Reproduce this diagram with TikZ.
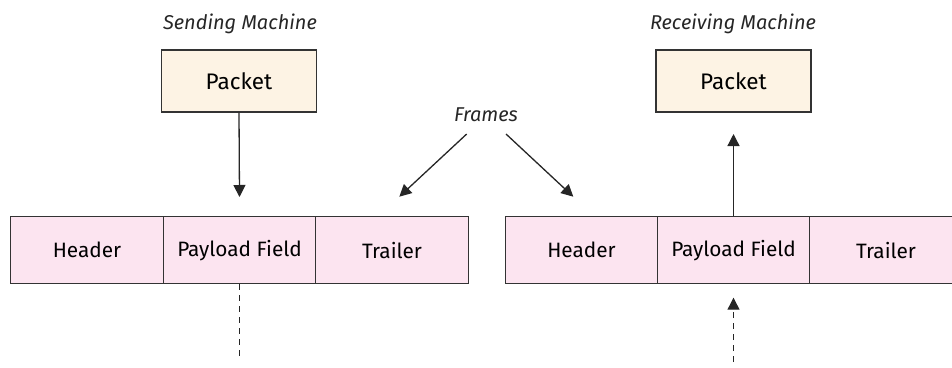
\documentclass[tikz,border=0pt]{standalone}
\usepackage{fontspec}
\setmainfont{Fira Sans}
\usetikzlibrary{arrows.meta}
\definecolor{packetfill}{HTML}{FDF3E4}
\definecolor{framefill}{HTML}{FCE4F0}
\definecolor{edge}{HTML}{333333}
\tikzset{
  packetbox/.style={draw=edge, fill=packetfill, line width=1.3pt, minimum width=155pt, minimum height=62pt, font=\fontsize{22.5}{26}\selectfont, inner sep=0pt},
  cell/.style={draw=edge, fill=framefill, line width=1.3pt, minimum width=152.5pt, minimum height=67pt, font=\fontsize{20.8}{24}\selectfont, inner sep=0pt},
  caption/.style={font=\itshape\fontsize{20}{24}\selectfont, text=black!85},
  link/.style={draw=black!85, line width=1.3pt, -{Triangle[width=12pt,length=12pt]}},
  dashlink/.style={draw=black!85, line width=1.2pt, dash pattern=on 6pt off 5pt}
}
\begin{document}
\begin{tikzpicture}[x=1pt,y=-1pt]
  \useasboundingbox (0,0) rectangle (952,367);
  \begin{scope}
    \clip (0,0) rectangle (952,367);
    % captions
    \node[caption] (sendcap) at (240,24) {Sending Machine};
    \node[caption] (recvcap) at (733,24) {Receiving Machine};
    \node[caption] (framescap) at (486,115) {Frames};
    % packets
    \node[packetbox] (spacket) at (239,81) {Packet};
    \node[packetbox] (rpacket) at (733.5,81) {Packet};
    % sending frame
    \node[cell] (sheader) at (87,250.3) {Header};
    \node[cell] (spayload) at (239.5,250.3) {Payload Field};
    \node[cell] (strailer) at (392,250.3) {Trailer};
    % receiving frame
    \node[cell] (rheader) at (581.5,250.3) {Header};
    \node[cell] (rpayload) at (733.5,250.3) {Payload Field};
    \node[cell] (rtrailer) at (886,250.3) {Trailer};
    % arrows
    \coordinate (sgap) at (239.5,197);
    \draw[link] (spacket.south) -- (sgap);
    \coordinate (rgap) at (733.5,134);
    \draw[link] (rpayload.north) -- (rgap);
    \coordinate (fl0) at (466.7,134);
    \coordinate (fl1) at (399.3,196.7);
    \draw[link] (fl0) -- (fl1);
    \coordinate (fr0) at (506,134);
    \coordinate (fr1) at (573.3,196.7);
    \draw[link] (fr0) -- (fr1);
    % links to the layer below
    \coordinate (sbelow) at (239.5,360);
    \draw[dashlink] (spayload.south) -- (sbelow);
    \coordinate (rbelow) at (733.5,362);
    \coordinate (rtip) at (733.5,297.7);
    \draw[dashlink, -{Triangle[width=12pt,length=12pt]}] (rbelow) -- (rtip);
  \end{scope}
\end{tikzpicture}
\end{document}
